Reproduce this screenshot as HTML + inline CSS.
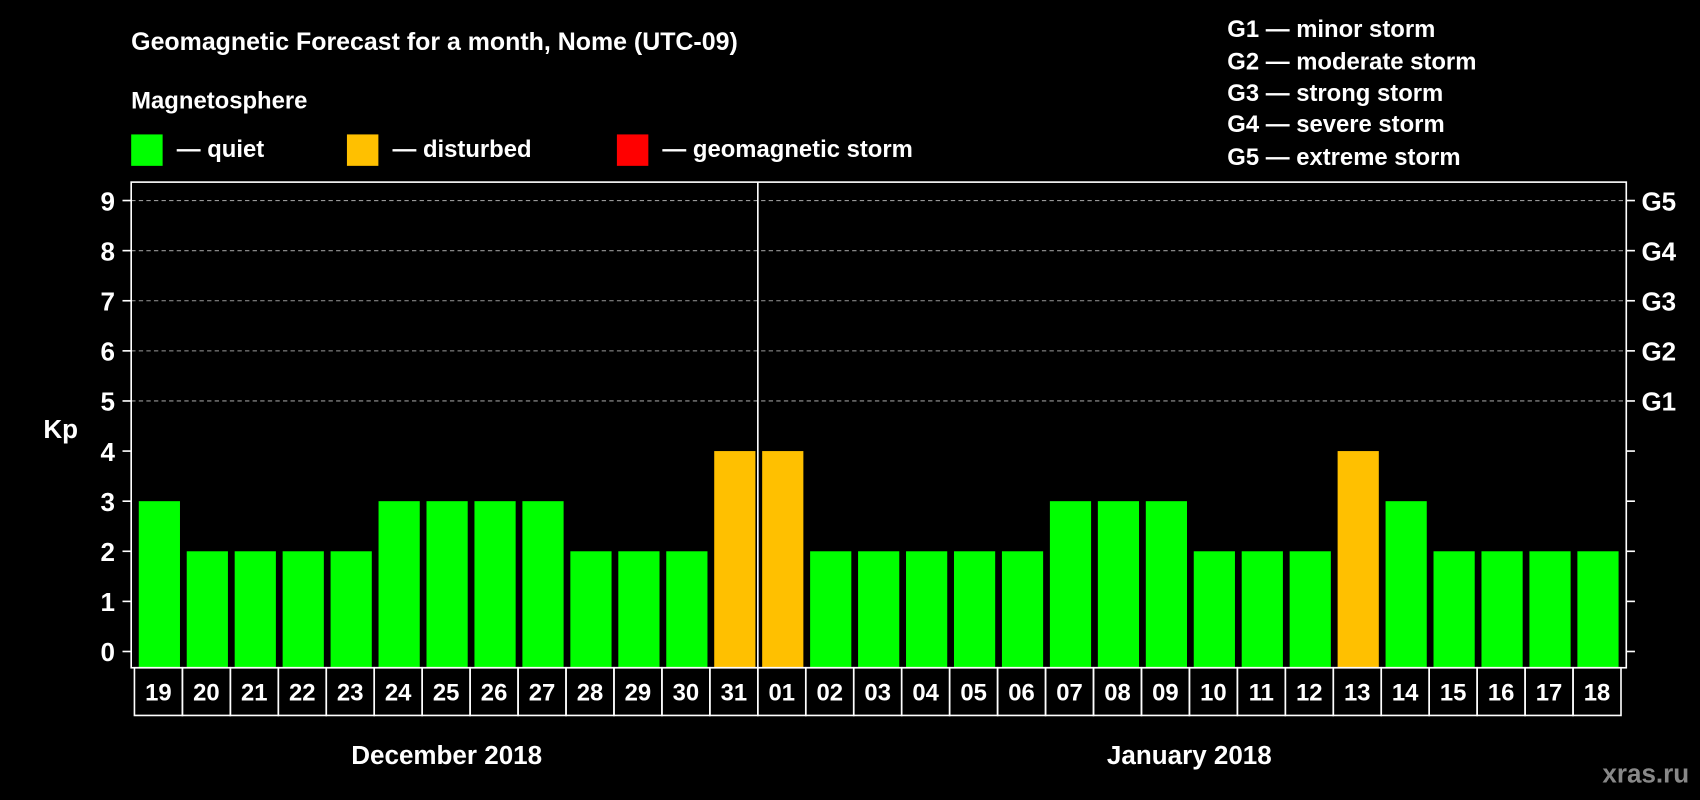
<!DOCTYPE html>
<html><head><meta charset="utf-8"><style>
html,body{margin:0;padding:0;background:#000;}
svg{display:block;font-family:"Liberation Sans",Arial,sans-serif;font-weight:bold;}
</style></head><body>
<svg id="chart" width="1700" height="800" viewBox="0 0 1568 738" preserveAspectRatio="none" xmlns="http://www.w3.org/2000/svg">
<rect x="0" y="0" width="1568" height="738" fill="#000"/>
<text x="121" y="46" fill="#fff" font-size="23">Geomagnetic Forecast for a month, Nome (UTC-09)</text>
<text x="121" y="100" fill="#fff" font-size="22">Magnetosphere</text>
<g><rect x="121" y="124" width="29" height="29" fill="#00ff00"/><text x="163" y="145" fill="#fff" font-size="22">— quiet</text></g>
<g><rect x="320" y="124" width="29" height="29" fill="#ffc000"/><text x="362" y="145" fill="#fff" font-size="22">— disturbed</text></g>
<g><rect x="569" y="124" width="29" height="29" fill="#ff0000"/><text x="611" y="145" fill="#fff" font-size="22">— geomagnetic storm</text></g>
<g fill="#fff" font-size="22">
<text x="1132" y="34">G1 — minor storm</text>
<text x="1132" y="64">G2 — moderate storm</text>
<text x="1132" y="93">G3 — strong storm</text>
<text x="1132" y="122">G4 — severe storm</text>
<text x="1132" y="152">G5 — extreme storm</text>
</g>
<text x="40" y="404" fill="#fff" font-size="24">Kp</text>
<g id="grid"></g>
<g id="bars"></g>
<g id="axes"></g>
<text x="412" y="705" fill="#fff" font-size="24" text-anchor="middle">December 2018</text>
<text x="1097" y="705" fill="#fff" font-size="24" text-anchor="middle">January 2018</text>
<text x="1558" y="722" fill="#888" font-size="24" text-anchor="end">xras.ru</text>
</svg>
<script>
const days = ["19","20","21","22","23","24","25","26","27","28","29","30","31","01","02","03","04","05","06","07","08","09","10","11","12","13","14","15","16","17","18"];
const kpValues = [3,2,2,2,2,3,3,3,3,2,2,2,4,4,2,2,2,2,2,3,3,3,2,2,2,4,3,2,2,2,2];
const yTicks = [0,1,2,3,4,5,6,7,8,9];
const gLabels = ["G1","G2","G3","G4","G5"];
const gLevels = [5,6,7,8,9];

const NS="http://www.w3.org/2000/svg";
const L=121,R=1500,T=168,B=616;
const y=v=>601-v*(601-185)/9;
const pitch=(1494-128)/(days.length-0.14);
const barW=38;
const bx=i=>128+i*44.23;
function mk(tag,attrs,parent){const e=document.createElementNS(NS,tag);for(const k in attrs)e.setAttribute(k,attrs[k]);parent.appendChild(e);return e;}
const grid=document.getElementById('grid'),bars=document.getElementById('bars'),axes=document.getElementById('axes');
gLevels.forEach((v,i)=>{
 const ln=mk('line',{x1:L,x2:R,y1:y(v),y2:y(v),stroke:'#999','stroke-dasharray':'4,3','stroke-width':1},grid);
 
 
 const t=mk('text',{x:1514,y:y(v)+9,fill:'#fff','font-size':24},axes);
 t.textContent=gLabels[i];
 
 
});
yTicks.forEach(v=>{
 mk('line',{x1:113,x2:L,y1:y(v),y2:y(v),stroke:'#fff','stroke-width':1.5},axes);
 mk('line',{x1:R,x2:1508,y1:y(v),y2:y(v),stroke:'#fff','stroke-width':1.5},axes);
 const t=mk('text',{x:106,y:y(v)+9,fill:'#fff','font-size':24,'text-anchor':'end'},axes);
 t.textContent=v;
 
 
});
kpValues.forEach((v,i)=>{
 const col=v>=5?'#ff0000':(v>=4?'#ffc000':'#00ff00');
 const r=mk('rect',{x:bx(i),y:y(v),width:barW,height:B-y(v),fill:col},bars);
 
 
});
const fr=mk('rect',{x:L,y:T,width:R-L,height:B-T,fill:'none',stroke:'#fff','stroke-width':1.5},axes);


const div=mk('line',{x1:bx(13)-4,x2:bx(13)-4,y1:T,y2:B,stroke:'#fff','stroke-width':1.5},axes);


days.forEach((d,i)=>{
 const cx=bx(i)-4;
 const c=mk('rect',{x:cx,y:B,width:44.23,height:44,fill:'none',stroke:'#fff','stroke-width':1.5},axes);
 
 
 const t=mk('text',{x:cx+22.1,y:B+30,fill:'#fff','font-size':22,'text-anchor':'middle'},axes);
 t.textContent=d;
 
 
});
</script>
</body></html>
